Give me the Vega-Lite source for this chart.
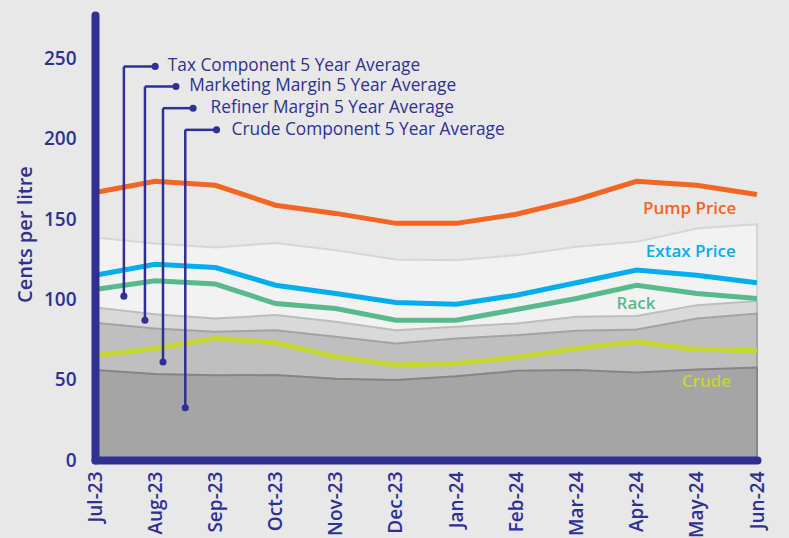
{
  "$schema": "https://vega.github.io/schema/vega-lite/v6.json",
  "width": 662,
  "height": 445,
  "autosize": "none",
  "padding": {"left": 95, "top": 15, "right": 32, "bottom": 78},
  "background": "#e8e8e8",
  "config": {"view": {"stroke": null}, "font": "Open Sans"},
  "datasets": {
    "monthly": [
      {"i": 0, "month": "Jul-23", "pump": 166.5, "extax": 115, "rack": 106.1, "crude": 64.9, "crude_avg": 56, "refiner_avg": 85.4, "marketing_avg": 95, "tax_avg": 138.5},
      {"i": 1, "month": "Aug-23", "pump": 173.5, "extax": 121.9, "rack": 111.5, "crude": 69.4, "crude_avg": 53.5, "refiner_avg": 81.9, "marketing_avg": 90.8, "tax_avg": 134.8},
      {"i": 2, "month": "Sep-23", "pump": 171, "extax": 119.8, "rack": 109.5, "crude": 75.7, "crude_avg": 52.7, "refiner_avg": 79.8, "marketing_avg": 88.1, "tax_avg": 132.3},
      {"i": 3, "month": "Oct-23", "pump": 158.6, "extax": 108.8, "rack": 97.4, "crude": 73, "crude_avg": 52.9, "refiner_avg": 80.8, "marketing_avg": 90.2, "tax_avg": 135.1},
      {"i": 4, "month": "Nov-23", "pump": 153.5, "extax": 103.7, "rack": 94.3, "crude": 64.3, "crude_avg": 50.6, "refiner_avg": 76.7, "marketing_avg": 86, "tax_avg": 130.6},
      {"i": 5, "month": "Dec-23", "pump": 147.3, "extax": 98, "rack": 87, "crude": 59.1, "crude_avg": 49.8, "refiner_avg": 72.5, "marketing_avg": 80.8, "tax_avg": 124.8},
      {"i": 6, "month": "Jan-24", "pump": 147.3, "extax": 97, "rack": 87, "crude": 60.1, "crude_avg": 52.2, "refiner_avg": 75.7, "marketing_avg": 82.9, "tax_avg": 124.4},
      {"i": 7, "month": "Feb-24", "pump": 153, "extax": 102.6, "rack": 93.7, "crude": 63.9, "crude_avg": 55.5, "refiner_avg": 77.7, "marketing_avg": 85, "tax_avg": 127.5},
      {"i": 8, "month": "Mar-24", "pump": 162, "extax": 110.3, "rack": 100.5, "crude": 69.4, "crude_avg": 56, "refiner_avg": 80.4, "marketing_avg": 89.1, "tax_avg": 132.7},
      {"i": 9, "month": "Apr-24", "pump": 173.5, "extax": 118.2, "rack": 108.8, "crude": 73.6, "crude_avg": 54.5, "refiner_avg": 81.3, "marketing_avg": 89.6, "tax_avg": 135.8},
      {"i": 10, "month": "May-24", "pump": 171, "extax": 115, "rack": 103.7, "crude": 68.8, "crude_avg": 56.4, "refiner_avg": 88.1, "marketing_avg": 96.4, "tax_avg": 144.1},
      {"i": 11, "month": "Jun-24", "pump": 165.3, "extax": 110.3, "rack": 100.5, "crude": 68, "crude_avg": 57.6, "refiner_avg": 91.2, "marketing_avg": 99, "tax_avg": 146.8}
    ],
    "callouts": [
      {"label": "Tax Component 5 Year Average", "xb": 0.48, "yb": 102, "yt": 245, "xd": 1.0, "xt": 1.21},
      {"label": "Marketing Margin 5 Year Average", "xb": 0.83, "yb": 87, "yt": 232.5, "xd": 1.345, "xt": 1.565},
      {"label": "Refiner Margin 5 Year Average", "xb": 1.13, "yb": 61, "yt": 219, "xd": 1.63, "xt": 1.92},
      {"label": "Crude Component 5 Year Average", "xb": 1.5, "yb": 32.5, "yt": 205.5, "xd": 2.02, "xt": 2.27}
    ],
    "linelabels": [
      {"text": "Pump Price", "x": 9.88, "y": 156.5, "color": "#f26522"},
      {"text": "Extax Price", "x": 9.9, "y": 129.2, "color": "#00aeef"},
      {"text": "Rack", "x": 8.99, "y": 97.4, "color": "#58b98b"},
      {"text": "Crude", "x": 10.16, "y": 48.7, "color": "#c5d531"}
    ]
  },
  "layer": [
    {
      "data": {"name": "monthly"},
      "mark": {"type": "area", "fill": "#f2f2f2", "stroke": "#d6d6d6", "strokeWidth": 2},
      "encoding": {
        "x": {"field": "i", "type": "quantitative",
          "scale": {"domain": [0, 11], "nice": false, "zero": false},
          "axis": {"title": null, "values": [0,1,2,3,4,5,6,7,8,9,10,11], "zindex": 1,
            "labelExpr": "['Jul-23','Aug-23','Sep-23','Oct-23','Nov-23','Dec-23','Jan-24','Feb-24','Mar-24','Apr-24','May-24','Jun-24'][datum.value]",
            "labelAngle": -90, "labelAlign": "right", "labelBaseline": "middle",
            "labelFontSize": 19, "labelFontWeight": 600, "labelColor": "#2e3192", "labelPadding": 11,
            "ticks": false, "grid": false,
            "domainColor": "#2e3192", "domainWidth": 8, "domainCap": "round"}},
        "y": {"field": "tax_avg", "type": "quantitative",
          "scale": {"domain": [0, 277], "nice": false},
          "axis": {"title": "Cents per litre", "values": [0,50,100,150,200,250], "zindex": 1,
            "labelFontSize": 19, "labelFontWeight": 600, "labelColor": "#2e3192", "labelPadding": 19,
            "titleFontSize": 20, "titleFontWeight": 600, "titleColor": "#2e3192", "titlePadding": 8, "titleY": 219,
            "ticks": false, "grid": false,
            "domainColor": "#2e3192", "domainWidth": 8, "domainCap": "round"}}
      }
    },
    {
      "data": {"name": "monthly"},
      "mark": {"type": "area", "fill": "#d9d9d9", "stroke": "#bdbdbd", "strokeWidth": 2},
      "encoding": {
        "x": {"field": "i", "type": "quantitative"},
        "y": {"field": "marketing_avg", "type": "quantitative"}
      }
    },
    {
      "data": {"name": "monthly"},
      "mark": {"type": "area", "fill": "#bfbfbf", "stroke": "#a3a3a3", "strokeWidth": 2},
      "encoding": {
        "x": {"field": "i", "type": "quantitative"},
        "y": {"field": "refiner_avg", "type": "quantitative"}
      }
    },
    {
      "data": {"name": "monthly"},
      "mark": {"type": "area", "fill": "#a5a5a5", "stroke": "#858585", "strokeWidth": 2},
      "encoding": {
        "x": {"field": "i", "type": "quantitative"},
        "y": {"field": "crude_avg", "type": "quantitative"}
      }
    },
    {
      "data": {"name": "monthly"},
      "mark": {"type": "line", "color": "#c5d531", "strokeWidth": 5},
      "encoding": {
        "x": {"field": "i", "type": "quantitative"},
        "y": {"field": "crude", "type": "quantitative"}
      }
    },
    {
      "data": {"name": "monthly"},
      "mark": {"type": "line", "color": "#58b98b", "strokeWidth": 5},
      "encoding": {
        "x": {"field": "i", "type": "quantitative"},
        "y": {"field": "rack", "type": "quantitative"}
      }
    },
    {
      "data": {"name": "monthly"},
      "mark": {"type": "line", "color": "#00aeef", "strokeWidth": 5},
      "encoding": {
        "x": {"field": "i", "type": "quantitative"},
        "y": {"field": "extax", "type": "quantitative"}
      }
    },
    {
      "data": {"name": "monthly"},
      "mark": {"type": "line", "color": "#f26522", "strokeWidth": 5},
      "encoding": {
        "x": {"field": "i", "type": "quantitative"},
        "y": {"field": "pump", "type": "quantitative"}
      }
    },
    {
      "data": {"name": "callouts"},
      "mark": {"type": "rule", "color": "#2e3192", "strokeWidth": 2.5},
      "encoding": {
        "x": {"field": "xb", "type": "quantitative"},
        "y": {"field": "yb", "type": "quantitative"},
        "y2": {"field": "yt"}
      }
    },
    {
      "data": {"name": "callouts"},
      "mark": {"type": "rule", "color": "#2e3192", "strokeWidth": 2.5},
      "encoding": {
        "x": {"field": "xb", "type": "quantitative"},
        "x2": {"field": "xd"},
        "y": {"field": "yt", "type": "quantitative"}
      }
    },
    {
      "data": {"name": "callouts"},
      "mark": {"type": "circle", "color": "#2e3192", "opacity": 1, "size": 50},
      "encoding": {
        "x": {"field": "xb", "type": "quantitative"},
        "y": {"field": "yb", "type": "quantitative"}
      }
    },
    {
      "data": {"name": "callouts"},
      "mark": {"type": "circle", "color": "#2e3192", "opacity": 1, "size": 50},
      "encoding": {
        "x": {"field": "xd", "type": "quantitative"},
        "y": {"field": "yt", "type": "quantitative"}
      }
    },
    {
      "data": {"name": "callouts"},
      "mark": {"type": "text", "color": "#2e3192", "fontSize": 17.3, "fontWeight": 500, "align": "left", "baseline": "middle"},
      "encoding": {
        "x": {"field": "xt", "type": "quantitative"},
        "y": {"field": "yt", "type": "quantitative"},
        "text": {"field": "label"}
      }
    },
    {
      "data": {"name": "linelabels"},
      "mark": {"type": "text", "fontSize": 17, "fontWeight": 600, "align": "center", "baseline": "middle"},
      "encoding": {
        "x": {"field": "x", "type": "quantitative"},
        "y": {"field": "y", "type": "quantitative"},
        "text": {"field": "text"},
        "color": {"field": "color", "type": "nominal", "scale": null}
      }
    }
  ]
}
